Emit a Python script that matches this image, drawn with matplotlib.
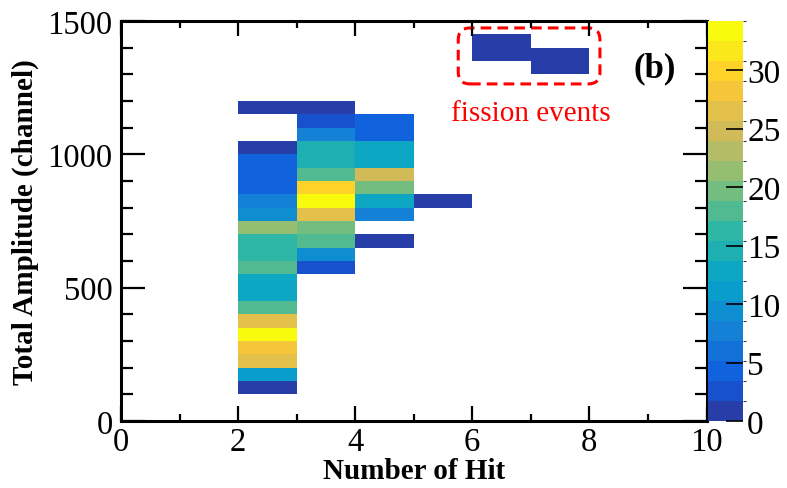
import numpy as np
import matplotlib
matplotlib.use("Agg")
import matplotlib.pyplot as plt
from matplotlib.colors import LinearSegmentedColormap, ListedColormap, BoundaryNorm
from matplotlib.patches import FancyBboxPatch
from matplotlib.ticker import MultipleLocator

plt.rcParams["font.family"] = ["Liberation Serif", "DejaVu Serif"]

# bin grid: hits 0..10 (width 1), amplitude 0..1500 (width 50)
x_edges = np.arange(0, 11, 1)
y_edges = np.arange(0, 1550, 50)

# filled bins per hit number: lower amplitude edge and counts
hit2_y = [100, 150, 200, 250, 300, 350, 400, 450, 500, 550, 600, 650, 700,
          750, 800, 850, 900, 950, 1000, 1150]
hit2_n = [1, 11, 26, 28, 34, 26, 18, 12, 12, 18, 16, 16, 21,
          9, 8, 4, 4, 4, 1, 1]
hit3_y = [550, 600, 650, 700, 750, 800, 850, 900, 950, 1000, 1050, 1100, 1150]
hit3_n = [3, 9, 18, 20, 26, 34, 30, 18, 15, 15, 8, 3, 1]
hit4_y = [650, 750, 800, 850, 900, 950, 1000, 1050, 1100]
hit4_n = [1, 8, 12, 20, 25, 12, 12, 4, 4]
hit5_y = [800]
hit5_n = [1]
hit6_y = [1350, 1400]
hit6_n = [1, 1]
hit7_y = [1300, 1350]
hit7_n = [1, 1]

columns = {2: (hit2_y, hit2_n), 3: (hit3_y, hit3_n), 4: (hit4_y, hit4_n),
           5: (hit5_y, hit5_n), 6: (hit6_y, hit6_n), 7: (hit7_y, hit7_n)}

H = np.zeros((len(y_edges) - 1, len(x_edges) - 1))
for hit, (ys, ns) in columns.items():
    for y, n in zip(ys, ns):
        H[y // 50, hit] = n
H = np.ma.masked_equal(H, 0)

# ROOT kBird palette, 20 contour levels
stops = [0.0, 0.125, 0.25, 0.375, 0.5, 0.625, 0.75, 0.875, 1.0]
red = [0.2082, 0.0592, 0.0780, 0.0232, 0.1802, 0.5301, 0.8186, 0.9956, 0.9764]
green = [0.1664, 0.3599, 0.5041, 0.6419, 0.7178, 0.7492, 0.7328, 0.7862, 0.9832]
blue = [0.5293, 0.8684, 0.8385, 0.7914, 0.6425, 0.4662, 0.3499, 0.1968, 0.0539]
bird = LinearSegmentedColormap.from_list(
    "bird", list(zip(stops, zip(red, green, blue))), N=255)
ncont = 20
cols = [bird(int((i + 0.99) * 255 / ncont) / 254) for i in range(ncont)]
cmap = ListedColormap(cols)
zmax = 34.2
norm = BoundaryNorm(np.linspace(0, zmax, ncont + 1), ncont)

W, Hpx = 787, 489
fig = plt.figure(figsize=(W / 100, Hpx / 100), dpi=100)
ax = fig.add_axes([121 / W, (Hpx - 422) / Hpx, 585.5 / W, 400 / Hpx])
cax = fig.add_axes([708 / W, (Hpx - 422) / Hpx, 35 / W, 400 / Hpx])

mesh = ax.pcolormesh(x_edges, y_edges, H, cmap=cmap, norm=norm,
                     edgecolors="none", antialiased=False)

ax.set_xlim(0, 10)
ax.set_ylim(0, 1500)
ax.xaxis.set_major_locator(MultipleLocator(2))
ax.xaxis.set_minor_locator(MultipleLocator(1))
ax.yaxis.set_major_locator(MultipleLocator(500))
ax.yaxis.set_minor_locator(MultipleLocator(100))
ax.tick_params(which="both", direction="in", top=True, right=True,
               labelsize=23.5, width=1.6)
ax.tick_params(axis="x", which="major", length=10.5, pad=4)
ax.tick_params(axis="x", which="minor", length=5.3)
ax.tick_params(axis="y", which="major", length=17, pad=6)
ax.tick_params(axis="y", which="minor", length=8.5)
for s in ax.spines.values():
    s.set_linewidth(2.2)

ax.set_xlabel("Number of Hit", fontsize=21, fontweight="bold", labelpad=0)
ax.set_ylabel("Total Amplitude (channel)", fontsize=21, fontweight="bold",
              labelpad=6)

cb = fig.colorbar(mesh, cax=cax, ticks=[0, 5, 10, 15, 20, 25, 30])
cb.outline.set_visible(False)
cax.tick_params(direction="in", length=12, width=1.2, labelsize=24, pad=3)

# annotations
ax.text(9.12, 1294, "(b)", fontsize=25, fontweight="bold",
        ha="center", va="baseline")
ax.text(7.0, 1130, "fission events", fontsize=21, color="red",
        ha="center", va="baseline")
box = FancyBboxPatch((5.76, 1264), 2.42, 210,
                     boxstyle="round,pad=0,rounding_size=0.2",
                     mutation_aspect=220, fill=False, edgecolor="red",
                     linewidth=2.2, linestyle=(0, (3.5, 2)), clip_on=False)
ax.add_patch(box)

fig.savefig("out.png", dpi=100)
